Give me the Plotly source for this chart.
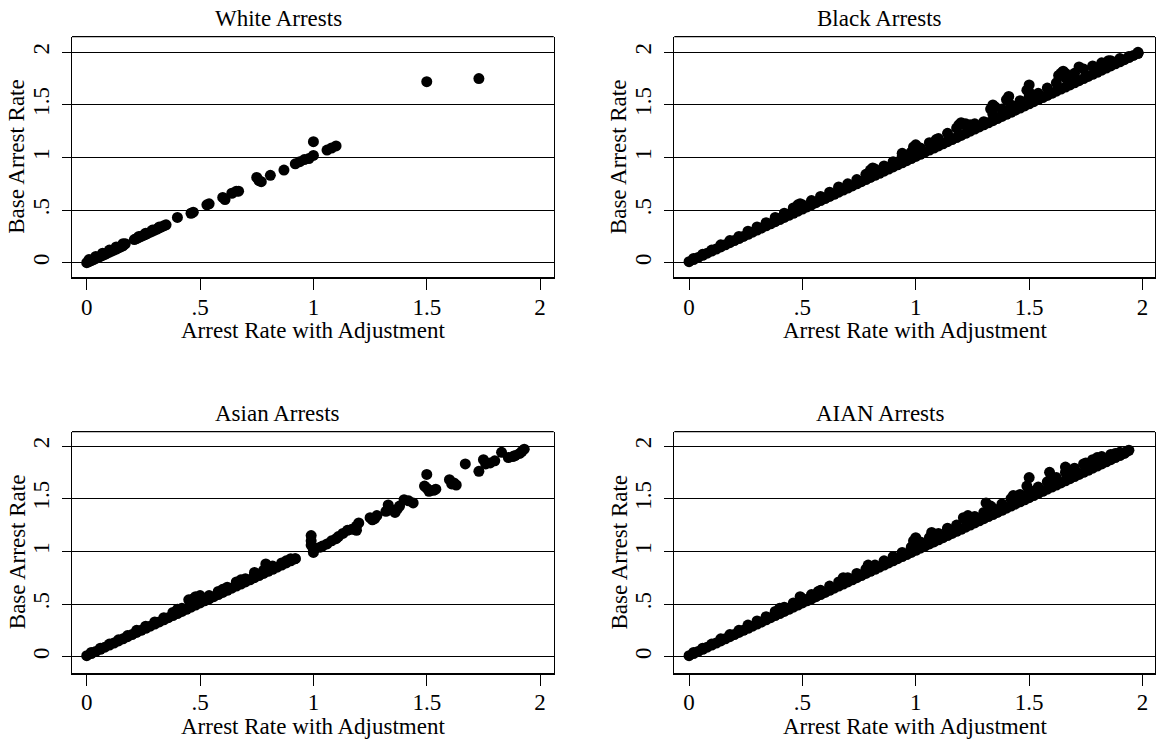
import plotly.graph_objects as go

# ---------------- data ----------------
tick_vals = [0, 0.5, 1, 1.5, 2]
tick_text = ["0", ".5", "1", "1.5", "2"]
titles = ["White Arrests", "Black Arrests", "Asian Arrests", "AIAN Arrests"]
x_title = "Arrest Rate with Adjustment"
y_title = "Base Arrest Rate"

# White
white_adj = [0.00, 0.01, 0.02, 0.03, 0.04, 0.05, 0.06, 0.07, 0.08, 0.09, 0.10, 0.11, 0.12, 0.13, 0.14, 0.15, 0.16, 0.17,
             0.01, 0.04, 0.07, 0.10, 0.13, 0.16,
             0.21, 0.22, 0.23, 0.24, 0.25, 0.26, 0.27, 0.28, 0.29, 0.30, 0.31, 0.32, 0.33, 0.34, 0.35,
             0.23, 0.26, 0.29, 0.32,
             0.40, 0.46, 0.47, 0.53, 0.54, 0.60, 0.61, 0.64, 0.66, 0.67, 0.75, 0.76, 0.77, 0.81, 0.87,
             0.92, 0.94, 0.96, 0.98, 1.00, 1.00, 1.06, 1.08, 1.10, 1.50, 1.73]
white_base = [0.00, 0.01, 0.02, 0.03, 0.04, 0.05, 0.06, 0.07, 0.08, 0.09, 0.10, 0.11, 0.12, 0.13, 0.14, 0.15, 0.16, 0.18,
              0.03, 0.06, 0.09, 0.12, 0.15, 0.18,
              0.22, 0.23, 0.24, 0.25, 0.26, 0.27, 0.28, 0.29, 0.30, 0.31, 0.32, 0.33, 0.34, 0.35, 0.36,
              0.25, 0.28, 0.31, 0.34,
              0.43, 0.47, 0.48, 0.55, 0.56, 0.62, 0.60, 0.66, 0.68, 0.68, 0.81, 0.78, 0.77, 0.83, 0.88,
              0.94, 0.96, 0.98, 0.99, 1.02, 1.15, 1.07, 1.09, 1.11, 1.72, 1.75]

# Black: lower edge of the band, upper edge of the band, and the points standing above it
black_low_adj = [0.00, 0.02, 0.04, 0.06, 0.08, 0.10, 0.12, 0.14, 0.16, 0.18, 0.20, 0.22, 0.24, 0.26, 0.28, 0.30, 0.32,
                 0.34, 0.36, 0.38, 0.40, 0.42, 0.44, 0.46, 0.48, 0.50, 0.52, 0.54, 0.56, 0.58, 0.60, 0.62, 0.64, 0.66,
                 0.68, 0.70, 0.72, 0.74, 0.76, 0.78, 0.80, 0.82, 0.84, 0.86, 0.88, 0.90, 0.92, 0.94, 0.96, 0.98, 1.00,
                 1.02, 1.04, 1.06, 1.08, 1.10, 1.12, 1.14, 1.16, 1.18, 1.20, 1.22, 1.24, 1.26, 1.28, 1.30, 1.32, 1.34,
                 1.36, 1.38, 1.40, 1.42, 1.44, 1.46, 1.48, 1.50, 1.52, 1.54, 1.56, 1.58, 1.60, 1.62, 1.64, 1.66, 1.68,
                 1.70, 1.72, 1.74, 1.76, 1.78, 1.80, 1.82, 1.84, 1.86, 1.88, 1.90, 1.92, 1.94, 1.96, 1.98]
black_low_base = [0.01, 0.03, 0.05, 0.07, 0.09, 0.11, 0.13, 0.15, 0.17, 0.19, 0.21, 0.23, 0.25, 0.27, 0.29, 0.31, 0.33,
                  0.35, 0.37, 0.39, 0.41, 0.43, 0.45, 0.47, 0.49, 0.51, 0.53, 0.55, 0.57, 0.59, 0.61, 0.63, 0.65, 0.67,
                  0.69, 0.71, 0.73, 0.75, 0.77, 0.79, 0.81, 0.83, 0.85, 0.87, 0.89, 0.91, 0.93, 0.95, 0.97, 0.99, 1.01,
                  1.03, 1.05, 1.07, 1.09, 1.11, 1.13, 1.15, 1.17, 1.19, 1.21, 1.23, 1.25, 1.27, 1.29, 1.31, 1.33, 1.35,
                  1.37, 1.39, 1.41, 1.43, 1.45, 1.47, 1.49, 1.51, 1.53, 1.55, 1.57, 1.59, 1.61, 1.63, 1.65, 1.67, 1.69,
                  1.71, 1.73, 1.75, 1.77, 1.79, 1.81, 1.83, 1.85, 1.87, 1.89, 1.91, 1.93, 1.95, 1.97, 1.99]
black_up_adj = [0.02, 0.06, 0.10, 0.14, 0.18, 0.22, 0.26, 0.30, 0.34, 0.38, 0.42, 0.46, 0.50, 0.54, 0.58, 0.62, 0.66,
                0.70, 0.74, 0.78, 0.82, 0.86, 0.90, 0.94, 0.98, 1.02, 1.06, 1.10, 1.14, 1.18, 1.22, 1.26, 1.30, 1.34,
                1.38, 1.42, 1.46, 1.50, 1.54, 1.58, 1.62, 1.66, 1.70, 1.74, 1.78, 1.82, 1.86, 1.90, 1.94, 1.98]
black_up_base = [0.04, 0.08, 0.12, 0.17, 0.21, 0.25, 0.30, 0.34, 0.38, 0.43, 0.47, 0.51, 0.55, 0.59, 0.63, 0.67, 0.71,
                 0.75, 0.79, 0.84, 0.88, 0.92, 0.96, 1.01, 1.05, 1.09, 1.14, 1.18, 1.23, 1.28, 1.31, 1.32, 1.34, 1.41,
                 1.46, 1.50, 1.54, 1.58, 1.61, 1.66, 1.71, 1.76, 1.80, 1.84, 1.87, 1.90, 1.92, 1.94, 1.96, 1.99]
black_out_adj = [0.39, 0.46, 0.48, 0.49, 0.66, 0.80, 0.81, 0.82, 0.94, 0.95, 0.99, 1.00, 1.09, 1.19, 1.20, 1.22, 1.24,
                 1.33, 1.34, 1.35, 1.40, 1.41, 1.49, 1.50, 1.50, 1.63, 1.64, 1.65, 1.66, 1.67, 1.72, 1.85, 1.98]
black_out_base = [0.42, 0.52, 0.55, 0.56, 0.72, 0.88, 0.90, 0.89, 1.04, 1.02, 1.10, 1.12, 1.17, 1.31, 1.33, 1.32, 1.31,
                  1.46, 1.50, 1.48, 1.55, 1.58, 1.64, 1.69, 1.62, 1.78, 1.80, 1.82, 1.80, 1.78, 1.86, 1.92, 2.00]

# Asian
asian_low_adj = [0.00, 0.02, 0.04, 0.06, 0.08, 0.10, 0.12, 0.14, 0.16, 0.18, 0.20, 0.22, 0.24, 0.26, 0.28, 0.30, 0.32,
                 0.34, 0.36, 0.38, 0.40, 0.42, 0.44, 0.46, 0.48, 0.50, 0.52, 0.54, 0.56, 0.58, 0.60, 0.62, 0.64, 0.66,
                 0.68, 0.70, 0.72, 0.74, 0.76, 0.78, 0.80, 0.82, 0.84, 0.86, 0.88, 0.90, 0.92]
asian_low_base = [0.01, 0.03, 0.05, 0.07, 0.09, 0.11, 0.13, 0.15, 0.17, 0.19, 0.21, 0.23, 0.25, 0.27, 0.29, 0.31, 0.33,
                  0.35, 0.37, 0.39, 0.41, 0.43, 0.45, 0.47, 0.49, 0.51, 0.53, 0.55, 0.57, 0.59, 0.61, 0.63, 0.65, 0.67,
                  0.69, 0.71, 0.73, 0.75, 0.77, 0.79, 0.81, 0.83, 0.85, 0.87, 0.89, 0.91, 0.93]
asian_up_adj = [0.02, 0.06, 0.10, 0.14, 0.18, 0.22, 0.26, 0.30, 0.34, 0.38, 0.42, 0.46, 0.50, 0.54, 0.58, 0.62, 0.66,
                0.70, 0.74, 0.78, 0.82, 0.86, 0.90]
asian_up_base = [0.04, 0.08, 0.12, 0.16, 0.20, 0.25, 0.29, 0.33, 0.37, 0.42, 0.46, 0.51, 0.55, 0.58, 0.62, 0.66, 0.70,
                 0.74, 0.78, 0.82, 0.86, 0.89, 0.93]
asian_out_adj = [0.40, 0.45, 0.47, 0.48, 0.50, 0.60, 0.66, 0.68, 0.74, 0.79, 0.88, 0.92,
                 0.99, 0.99, 0.99, 1.00, 1.00, 1.01, 1.03, 1.04, 1.06, 1.08, 1.10, 1.11, 1.13, 1.15, 1.17, 1.19, 1.20,
                 1.19, 1.25, 1.26, 1.27, 1.28, 1.33, 1.32, 1.33, 1.34, 1.36, 1.37, 1.38, 1.40, 1.42, 1.44, 1.50, 1.49,
                 1.50, 1.51, 1.53, 1.54, 1.60, 1.61, 1.62, 1.63, 1.67, 1.73, 1.75, 1.76, 1.78, 1.80, 1.83, 1.86, 1.88,
                 1.89, 1.91, 1.92, 1.93]
asian_out_base = [0.45, 0.54, 0.55, 0.57, 0.58, 0.64, 0.71, 0.73, 0.80, 0.88, 0.91, 0.93,
                  1.15, 1.10, 1.06, 1.02, 0.99, 1.03, 1.04, 1.05, 1.07, 1.10, 1.12, 1.14, 1.17, 1.20, 1.21, 1.24, 1.27,
                  1.20, 1.32, 1.30, 1.31, 1.34, 1.44, 1.38, 1.41, 1.40, 1.37, 1.40, 1.43, 1.49, 1.48, 1.46, 1.73, 1.62,
                  1.60, 1.57, 1.58, 1.59, 1.68, 1.64, 1.65, 1.63, 1.83, 1.76, 1.87, 1.83, 1.84, 1.86, 1.94, 1.89, 1.90,
                  1.91, 1.93, 1.95, 1.97]

# AIAN
aian_low_adj = [0.00, 0.02, 0.04, 0.06, 0.08, 0.10, 0.12, 0.14, 0.16, 0.18, 0.20, 0.22, 0.24, 0.26, 0.28, 0.30, 0.32,
                0.34, 0.36, 0.38, 0.40, 0.42, 0.44, 0.46, 0.48, 0.50, 0.52, 0.54, 0.56, 0.58, 0.60, 0.62, 0.64, 0.66,
                0.68, 0.70, 0.72, 0.74, 0.76, 0.78, 0.80, 0.82, 0.84, 0.86, 0.88, 0.90, 0.92, 0.94, 0.96, 0.98, 1.00,
                1.02, 1.04, 1.06, 1.08, 1.10, 1.12, 1.14, 1.16, 1.18, 1.20, 1.22, 1.24, 1.26, 1.28, 1.30, 1.32, 1.34,
                1.36, 1.38, 1.40, 1.42, 1.44, 1.46, 1.48, 1.50, 1.52, 1.54, 1.56, 1.58, 1.60, 1.62, 1.64, 1.66, 1.68,
                1.70, 1.72, 1.74, 1.76, 1.78, 1.80, 1.82, 1.84, 1.86, 1.88, 1.90, 1.92]
aian_low_base = [0.01, 0.03, 0.05, 0.07, 0.09, 0.11, 0.13, 0.15, 0.17, 0.19, 0.21, 0.23, 0.25, 0.27, 0.29, 0.31, 0.33,
                 0.35, 0.37, 0.39, 0.41, 0.43, 0.45, 0.47, 0.49, 0.51, 0.53, 0.55, 0.57, 0.59, 0.61, 0.63, 0.65, 0.67,
                 0.69, 0.71, 0.73, 0.75, 0.77, 0.79, 0.81, 0.83, 0.85, 0.87, 0.89, 0.91, 0.93, 0.95, 0.97, 0.99, 1.01,
                 1.03, 1.05, 1.07, 1.09, 1.11, 1.13, 1.15, 1.17, 1.19, 1.21, 1.23, 1.25, 1.27, 1.29, 1.31, 1.33, 1.35,
                 1.37, 1.39, 1.41, 1.43, 1.45, 1.47, 1.49, 1.51, 1.53, 1.55, 1.57, 1.59, 1.61, 1.63, 1.65, 1.67, 1.69,
                 1.71, 1.73, 1.75, 1.77, 1.79, 1.81, 1.83, 1.85, 1.87, 1.89, 1.91, 1.93]
aian_up_adj = [0.02, 0.06, 0.10, 0.14, 0.18, 0.22, 0.26, 0.30, 0.34, 0.38, 0.42, 0.46, 0.50, 0.54, 0.58, 0.62, 0.66,
               0.70, 0.74, 0.78, 0.82, 0.86, 0.90, 0.94, 0.98, 1.02, 1.06, 1.10, 1.14, 1.18, 1.22, 1.26, 1.30, 1.34,
               1.38, 1.42, 1.46, 1.50, 1.54, 1.58, 1.62, 1.66, 1.70, 1.74, 1.78, 1.82, 1.86, 1.90, 1.94]
aian_up_base = [0.04, 0.08, 0.12, 0.17, 0.21, 0.25, 0.30, 0.34, 0.38, 0.43, 0.47, 0.51, 0.55, 0.59, 0.63, 0.67, 0.71,
                0.75, 0.79, 0.83, 0.87, 0.91, 0.95, 0.99, 1.04, 1.09, 1.13, 1.17, 1.21, 1.25, 1.30, 1.33, 1.37, 1.41,
                1.45, 1.50, 1.54, 1.58, 1.61, 1.66, 1.70, 1.75, 1.79, 1.83, 1.87, 1.90, 1.92, 1.94, 1.96]
aian_out_adj = [0.40, 0.49, 0.50, 0.57, 0.68, 0.79, 0.99, 1.00, 0.99, 1.07, 1.14, 1.21, 1.23, 1.31, 1.33, 1.43,
                1.50, 1.49, 1.59, 1.60, 1.66, 1.67, 1.75, 1.80, 1.88, 1.93]
aian_out_base = [0.46, 0.57, 0.55, 0.62, 0.75, 0.87, 1.06, 1.13, 1.10, 1.18, 1.22, 1.32, 1.34, 1.46, 1.43, 1.53,
                 1.70, 1.62, 1.75, 1.70, 1.80, 1.76, 1.84, 1.89, 1.93, 1.95]

panels = [
    (white_adj, white_base),
    (black_low_adj + black_up_adj + black_out_adj, black_low_base + black_up_base + black_out_base),
    (asian_low_adj + asian_up_adj + asian_out_adj, asian_low_base + asian_up_base + asian_out_base),
    (aian_low_adj + aian_up_adj + aian_out_adj, aian_low_base + aian_up_base + aian_out_base),
]

# ---------------- layout geometry (pixels in the figure) ----------------
W, H = 1156, 744
FONT = "Liberation Serif, Times New Roman, serif"
FS = 23
# (left, right, top, bottom) of each plot box
boxes = [(72, 553.7, 36.7, 277), (674.3, 1155, 36.7, 277),
         (72, 553.7, 431.7, 672.7), (674.3, 1155, 431.7, 672.7)]
title_cx = [278, 879, 277, 880]
x_ranges = [[-0.065, 2.06], [-0.065, 2.055], [-0.065, 2.06], [-0.065, 2.055]]
y_ranges = [[-0.136, 2.148], [-0.136, 2.148], [-0.152, 2.136], [-0.152, 2.136]]

fig = go.Figure()
annotations = []
shapes = []
layout = {}
for i, ((xs, ys), (l, r, t, b)) in enumerate(zip(panels, boxes)):
    n = "" if i == 0 else str(i + 1)
    fig.add_trace(go.Scatter(x=xs, y=ys, mode="markers", xaxis="x" + n, yaxis="y" + n,
                             marker=dict(color="black", size=11, line=dict(width=0)),
                             showlegend=False, hoverinfo="x+y"))
    layout["xaxis" + n] = dict(
        domain=[l / W, r / W], anchor="y" + n, range=x_ranges[i],
        showgrid=False, zeroline=False, showline=True, linecolor="black", linewidth=2, mirror=False,
        ticks="outside", ticklen=11, tickwidth=1.3, tickcolor="black",
        tickvals=tick_vals, ticktext=tick_text, ticklabelstandoff=-3,
        tickfont=dict(family=FONT, size=FS, color="black"), automargin=False, fixedrange=True)
    layout["yaxis" + n] = dict(
        domain=[1 - b / H, 1 - t / H], anchor="x" + n, range=y_ranges[i],
        showgrid=True, gridcolor="black", gridwidth=1.3, zeroline=False,
        showline=True, linecolor="black", linewidth=1.3, mirror=True,
        ticks="outside", ticklen=9, tickwidth=1.3, tickcolor="black",
        tickvals=tick_vals, ticktext=tick_text, tickangle=-90, ticklabelstandoff=4,
        tickfont=dict(family=FONT, size=FS, color="black"), automargin=False, fixedrange=True)
    shapes.append(dict(type="line", xref="x" + n + " domain", yref="y" + n + " domain",
                       x0=0, x1=1, y0=1, y1=1, line=dict(color="black", width=1.3)))
    annotations.append(dict(text=titles[i], xref="paper", yref="paper", x=title_cx[i] / W,
                            y=1 - (t - 18) / H, xanchor="center", yanchor="middle", showarrow=False,
                            font=dict(family=FONT, size=FS, color="black")))
    annotations.append(dict(text=x_title, xref="paper", yref="paper", x=(l + r) / 2 / W,
                            y=1 - (b + 54) / H, xanchor="center", yanchor="middle", showarrow=False,
                            font=dict(family=FONT, size=FS, color="black")))
    annotations.append(dict(text=y_title, xref="paper", yref="paper", x=(l - 55) / W,
                            y=1 - (t + b) / 2 / H, xanchor="center", yanchor="middle", showarrow=False,
                            textangle=-90, font=dict(family=FONT, size=FS, color="black")))

fig.update_layout(width=W, height=H, margin=dict(l=0, r=0, t=0, b=0),
                  paper_bgcolor="white", plot_bgcolor="white", hovermode=False,
                  annotations=annotations, shapes=shapes, showlegend=False, **layout)

# the page's default 8px body margin is removed so the figure fills the window exactly
fig.write_html("out.html", config={"displayModeBar": False},
               post_script="document.body.style.margin='0px';")
